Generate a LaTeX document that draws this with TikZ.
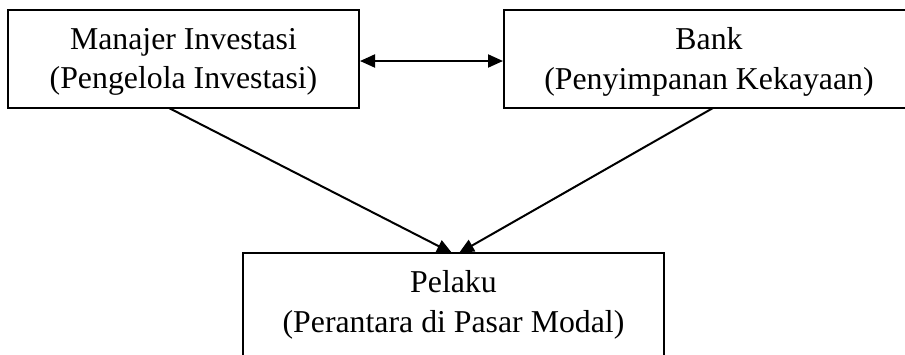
\documentclass[tikz,border=0pt]{standalone}
\usepackage{fontspec}
\setmainfont{Liberation Serif}
\usetikzlibrary{arrows.meta}
\begin{document}
\begin{tikzpicture}[x=1pt,y=-1pt,
  box/.style={draw=black, line width=2pt, rectangle, inner sep=0pt},
  txt/.style={align=center, inner sep=0pt, font=\fontsize{31.8}{39.5}\selectfont},
  conn/.style={line width=2pt, -{Triangle[length=15pt,width=13pt]}},
  bicon/.style={line width=2pt, {Triangle[length=15pt,width=13pt]}-{Triangle[length=15pt,width=13pt]}}]
\useasboundingbox[fill=white] (0,0) rectangle (905,354);
% boxes
\node[box, minimum width=351pt, minimum height=98pt] (mi) at (183.5,59) {};
\node[box, minimum width=410pt, minimum height=98pt] (bank) at (709,59) {};
\node[box, minimum width=421pt, minimum height=110pt] (pel) at (453.5,308) {};
% texts
\node[txt] (mit) at (183.5,61.7) {Manajer Investasi\\(Pengelola Investasi)};
\node[txt] (bankt) at (709,61.7) {Bank\\(Penyimpanan Kekayaan)};
\node[txt] (pelt) at (453.5,304.7) {Pelaku\\(Perantara di Pasar Modal)};
% connector anchors
\coordinate (a1) at (169,108);
\coordinate (a2) at (713,108);
\coordinate (e1) at (452,253);
\coordinate (e2) at (459,253);
\draw[bicon] ([yshift=-2pt]mi.east) -- ([yshift=-2pt]bank.west);
\draw[conn] (a1) -- (e1);
\draw[conn] (a2) -- (e2);
\end{tikzpicture}
\end{document}
